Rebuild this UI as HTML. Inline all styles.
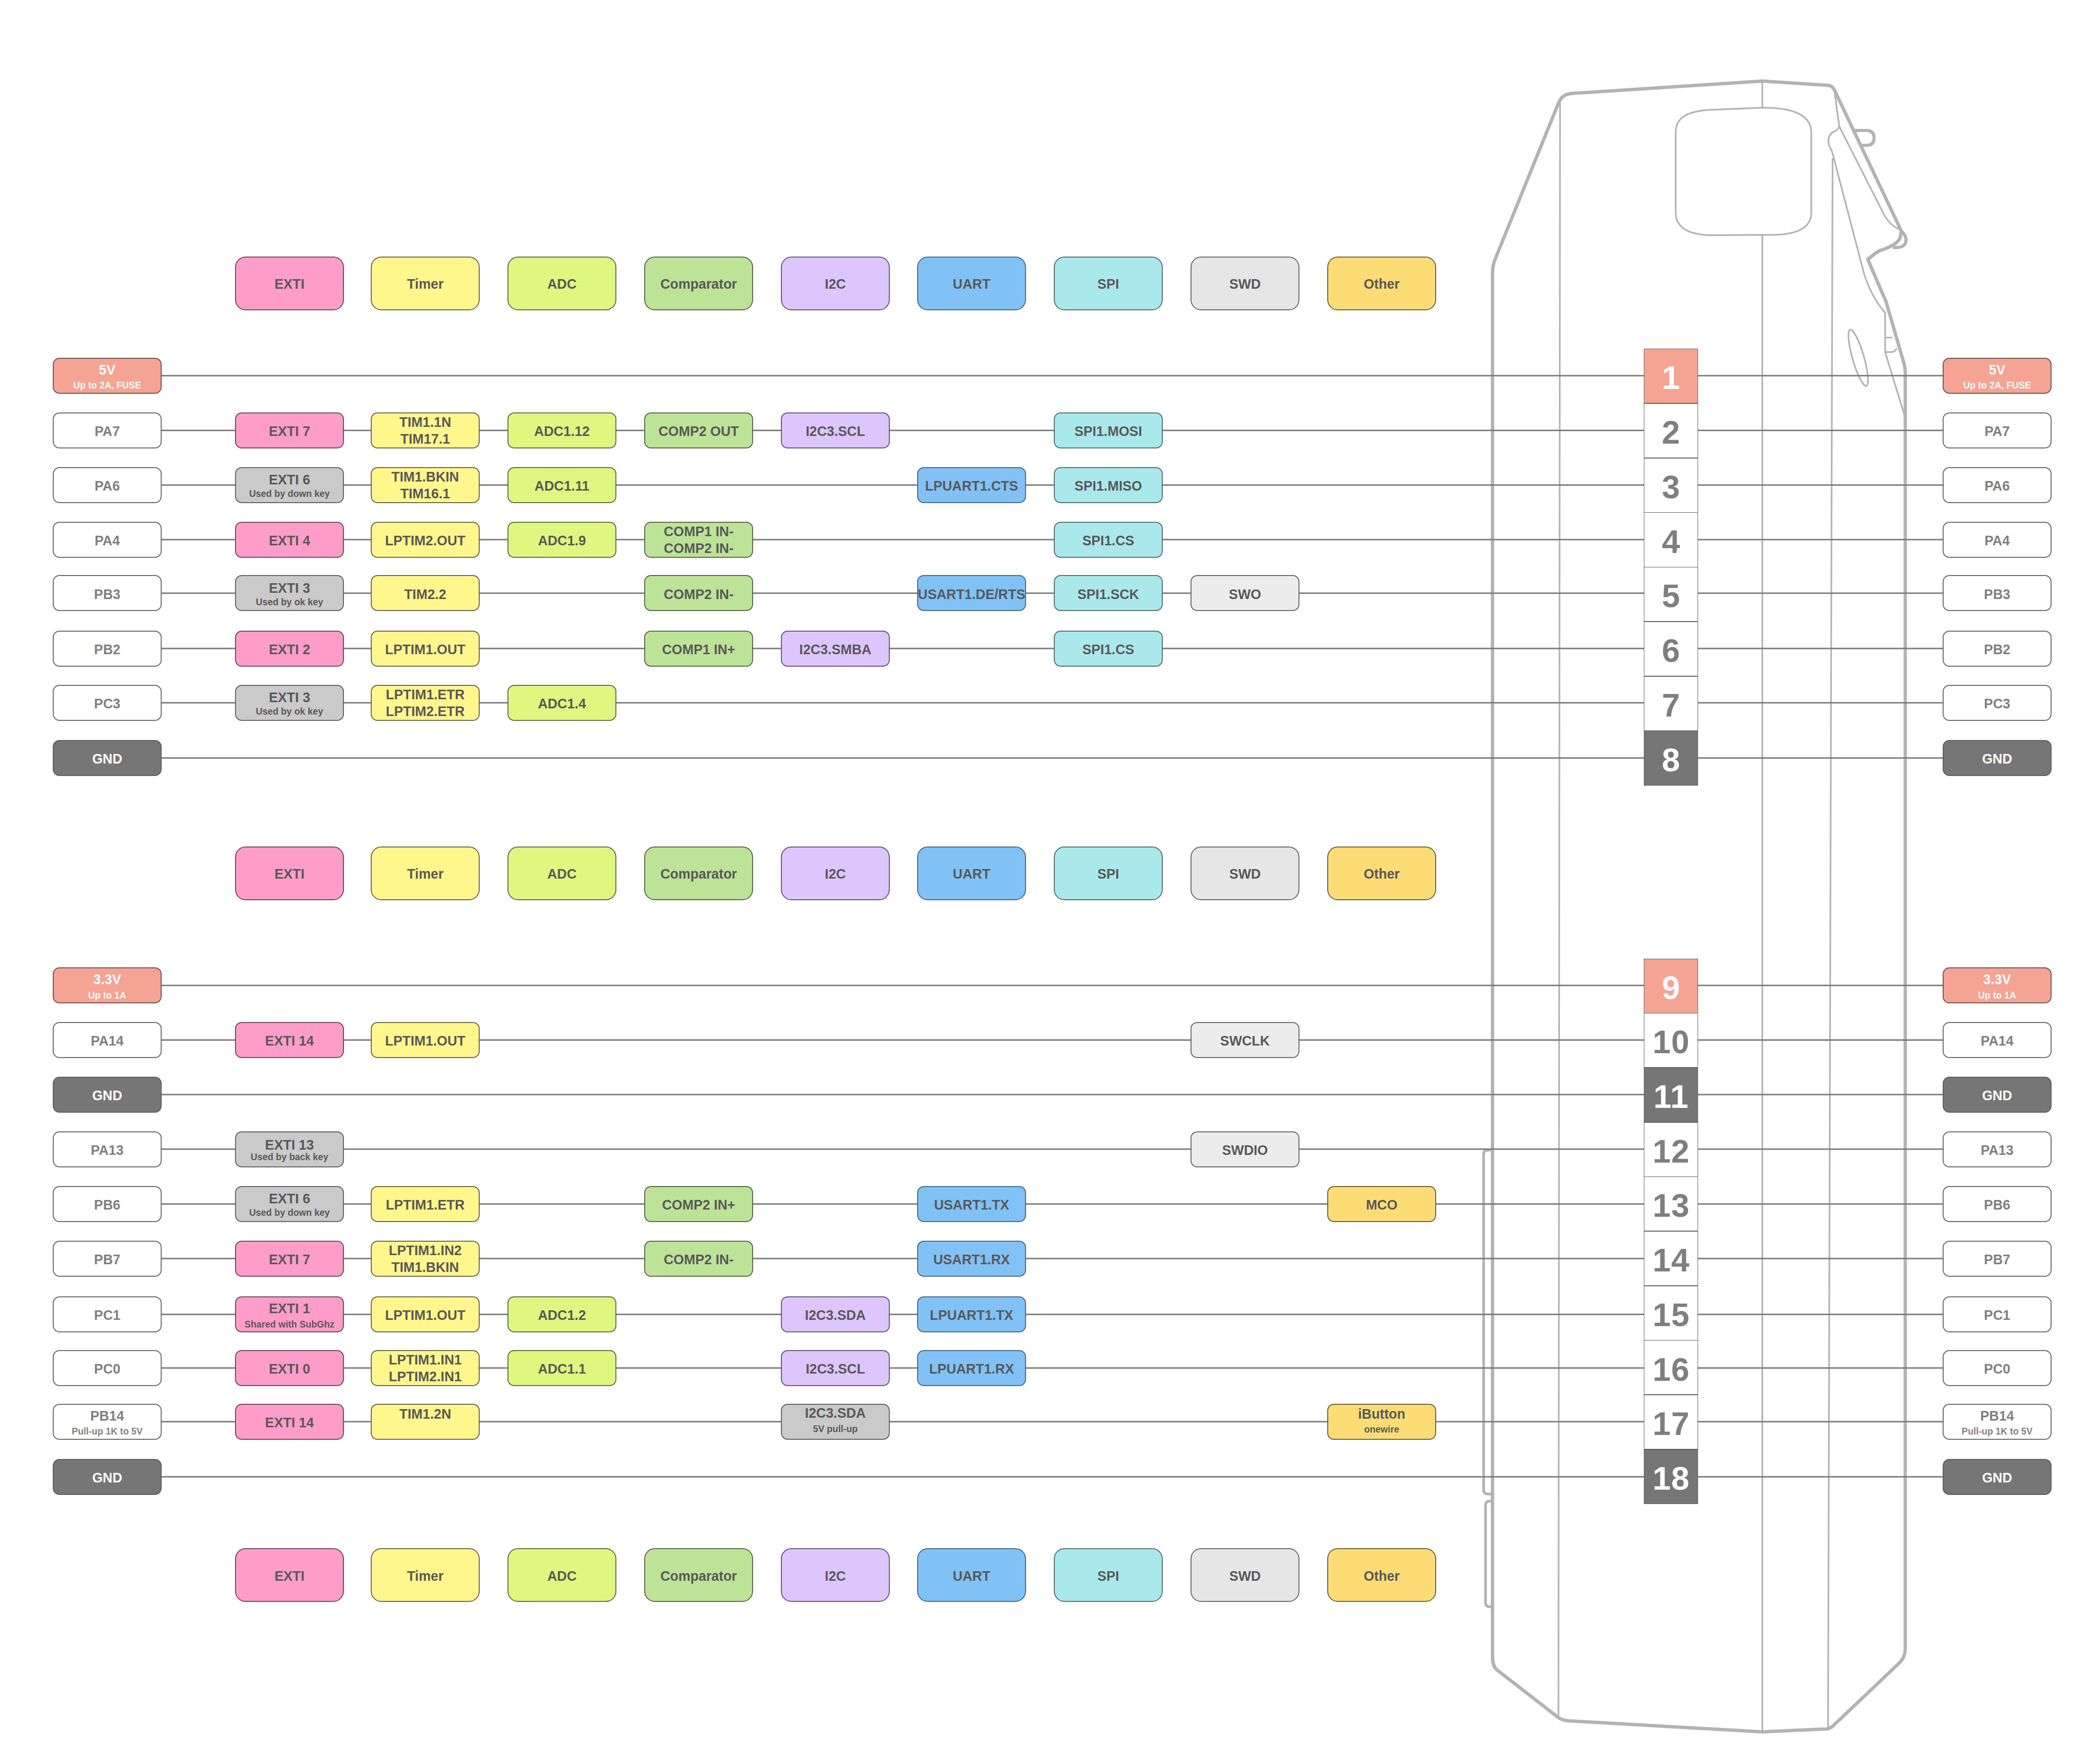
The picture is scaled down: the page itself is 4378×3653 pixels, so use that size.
<!DOCTYPE html><html><head><meta charset="utf-8"><title>Flipper Zero GPIO pinout</title><style>
*{margin:0;padding:0;box-sizing:border-box}
html,body{width:4378px;height:3653px;background:#fff;overflow:hidden}
body{position:relative;font-family:"Liberation Sans",sans-serif;font-weight:bold}
.b{position:absolute;border-style:solid;border-width:2px}
.c{height:75px;width:227px;border-radius:14px}
.h{height:112px;width:227px;border-radius:22px}
.t{position:absolute;left:-10px;right:-10px;text-align:center;white-space:nowrap}
.m{font-size:30.3px;line-height:30.3px;transform:scaleX(0.93)}
.s{font-size:19.3px;line-height:19.3px}
.pin{position:absolute;left:3427px;width:113px;border:1.5px solid #5e5e5e;font-size:68px;line-height:68px;letter-spacing:1px}
.pin span{position:absolute;left:1px;right:0;text-align:center}
svg{position:absolute;left:0;top:0}
</style></head><body>
<svg width="4378" height="3653" viewBox="0 0 4378 3653"><path d="M3111.5 3455 L3111.5 568 Q3111.5 556 3116 543 L3249 215 Q3256 197 3275 195 L3674 169 L3812 178 Q3820 179 3824 187 L3963 480 Q3965 500 3948 510 Q3930 520 3920 522 Q3910 527 3894 541 L3928 620 L3932 629 L3970 760 Q3972 768 3972 778 L3972 3438 Q3972 3455 3960 3467 L3822 3598 Q3815 3605 3806 3605 L3674 3611 L3270 3588 Q3256 3587 3246 3579 L3121 3482 Q3111.5 3474 3111.5 3455 Z" fill="none" stroke="#b3b3b3" stroke-width="7" stroke-linejoin="round"/><path d="M3963 481 Q3978 494 3972 508 Q3966 518 3946 516" fill="none" stroke="#b3b3b3" stroke-width="6.5"/><path d="M3864 272 L3891 272 Q3907 272 3907 288 Q3907 303 3891 303 L3880 303" fill="none" stroke="#b3b3b3" stroke-width="6.5"/><path d="M3252.3 212 L3249 3580" fill="none" stroke="#b3b3b3" stroke-width="3.4"/><path d="M3674 169 L3674 225" fill="none" stroke="#b3b3b3" stroke-width="3.4"/><path d="M3674 489 L3674 3611" fill="none" stroke="#b3b3b3" stroke-width="3.4"/><path d="M3820.5 330 L3811 3603" fill="none" stroke="#b3b3b3" stroke-width="3.4"/><path d="M3493.4 274 Q3494 232 3566 229 L3674 224.5 L3696 225 Q3774 230 3776 274 L3776 444 Q3776 486 3704 489.5 L3565 490.5 Q3494 488 3493.4 444 Z" fill="none" stroke="#b3b3b3" stroke-width="3.4"/><path d="M3824 187 L3834.4 263.6 Q3832 272 3820 276 Q3811 282 3812 298 L3813 303 Q3817 310 3820 318 L3887 574 Q3905 625 3930 652 L3930 734 L3971 868" fill="none" stroke="#b3b3b3" stroke-width="3.4"/><path d="M3834.4 263.6 L3928 448 Q3942 472 3962 479" fill="none" stroke="#b3b3b3" stroke-width="3.4"/><path d="M3930 704 L3945 704" fill="none" stroke="#b3b3b3" stroke-width="3.4"/><path d="M3930 734 L3942 734 Q3952 734 3954 726" fill="none" stroke="#b3b3b3" stroke-width="3.4"/><ellipse cx="3874" cy="746" rx="12" ry="61" transform="rotate(-16 3874 746)" fill="none" stroke="#b3b3b3" stroke-width="3.4"/><path d="M3111 2398 L3101 2398 Q3093 2398 3093 2407 L3093 3106 Q3093 3115 3101 3115 L3111 3115" fill="none" stroke="#b3b3b3" stroke-width="5.5"/><path d="M3111 3130 L3105 3130 Q3097 3130 3097 3139 L3097 3342 Q3097 3350 3105 3350 L3111 3350" fill="none" stroke="#b3b3b3" stroke-width="5.5"/><rect x="336" y="781.8" width="3718" height="3" fill="#7a7a7a"/><rect x="336" y="895.9" width="3718" height="3" fill="#7a7a7a"/><rect x="336" y="1009.8" width="3718" height="3" fill="#7a7a7a"/><rect x="336" y="1123.6" width="3718" height="3" fill="#7a7a7a"/><rect x="336" y="1235.3" width="3718" height="3" fill="#7a7a7a"/><rect x="336" y="1350.6" width="3718" height="3" fill="#7a7a7a"/><rect x="336" y="1463.8" width="3718" height="3" fill="#7a7a7a"/><rect x="336" y="1578.9" width="3718" height="3" fill="#7a7a7a"/><rect x="336" y="2053.2" width="3718" height="3" fill="#7a7a7a"/><rect x="336" y="2167.0" width="3718" height="3" fill="#7a7a7a"/><rect x="336" y="2280.7" width="3718" height="3" fill="#7a7a7a"/><rect x="336" y="2394.5" width="3718" height="3" fill="#7a7a7a"/><rect x="336" y="2508.9" width="3718" height="3" fill="#7a7a7a"/><rect x="336" y="2622.6" width="3718" height="3" fill="#7a7a7a"/><rect x="336" y="2739.1" width="3718" height="3" fill="#7a7a7a"/><rect x="336" y="2850.8" width="3718" height="3" fill="#7a7a7a"/><rect x="336" y="2962.7" width="3718" height="3" fill="#7a7a7a"/><rect x="336" y="3077.7" width="3718" height="3" fill="#7a7a7a"/></svg>
<div class="b h" style="left:490px;top:535.0px;background:#fe9dc7;border-color:#6a4a5a;color:#585858"><div class="t m" style="top:40.4px">EXTI</div></div>
<div class="b h" style="left:773px;top:535.0px;background:#fff68c;border-color:#66644a;color:#585858"><div class="t m" style="top:40.4px">Timer</div></div>
<div class="b h" style="left:1058px;top:535.0px;background:#dff77f;border-color:#5f6a48;color:#585858"><div class="t m" style="top:40.4px">ADC</div></div>
<div class="b h" style="left:1343px;top:535.0px;background:#bde397;border-color:#55654c;color:#585858"><div class="t m" style="top:40.4px">Comparator</div></div>
<div class="b h" style="left:1628px;top:535.0px;background:#dcc6fb;border-color:#5f5578;color:#585858"><div class="t m" style="top:40.4px">I2C</div></div>
<div class="b h" style="left:1912px;top:535.0px;background:#80c2f5;border-color:#4a6680;color:#585858"><div class="t m" style="top:40.4px">UART</div></div>
<div class="b h" style="left:2197px;top:535.0px;background:#aae9eb;border-color:#546c6c;color:#585858"><div class="t m" style="top:40.4px">SPI</div></div>
<div class="b h" style="left:2482px;top:535.0px;background:#e6e6e6;border-color:#666666;color:#585858"><div class="t m" style="top:40.4px">SWD</div></div>
<div class="b h" style="left:2767px;top:535.0px;background:#fcdd75;border-color:#66603f;color:#585858"><div class="t m" style="top:40.4px">Other</div></div>
<div class="b h" style="left:490px;top:1765.0px;background:#fe9dc7;border-color:#6a4a5a;color:#585858"><div class="t m" style="top:40.4px">EXTI</div></div>
<div class="b h" style="left:773px;top:1765.0px;background:#fff68c;border-color:#66644a;color:#585858"><div class="t m" style="top:40.4px">Timer</div></div>
<div class="b h" style="left:1058px;top:1765.0px;background:#dff77f;border-color:#5f6a48;color:#585858"><div class="t m" style="top:40.4px">ADC</div></div>
<div class="b h" style="left:1343px;top:1765.0px;background:#bde397;border-color:#55654c;color:#585858"><div class="t m" style="top:40.4px">Comparator</div></div>
<div class="b h" style="left:1628px;top:1765.0px;background:#dcc6fb;border-color:#5f5578;color:#585858"><div class="t m" style="top:40.4px">I2C</div></div>
<div class="b h" style="left:1912px;top:1765.0px;background:#80c2f5;border-color:#4a6680;color:#585858"><div class="t m" style="top:40.4px">UART</div></div>
<div class="b h" style="left:2197px;top:1765.0px;background:#aae9eb;border-color:#546c6c;color:#585858"><div class="t m" style="top:40.4px">SPI</div></div>
<div class="b h" style="left:2482px;top:1765.0px;background:#e6e6e6;border-color:#666666;color:#585858"><div class="t m" style="top:40.4px">SWD</div></div>
<div class="b h" style="left:2767px;top:1765.0px;background:#fcdd75;border-color:#66603f;color:#585858"><div class="t m" style="top:40.4px">Other</div></div>
<div class="b h" style="left:490px;top:3228.3px;background:#fe9dc7;border-color:#6a4a5a;color:#585858"><div class="t m" style="top:40.4px">EXTI</div></div>
<div class="b h" style="left:773px;top:3228.3px;background:#fff68c;border-color:#66644a;color:#585858"><div class="t m" style="top:40.4px">Timer</div></div>
<div class="b h" style="left:1058px;top:3228.3px;background:#dff77f;border-color:#5f6a48;color:#585858"><div class="t m" style="top:40.4px">ADC</div></div>
<div class="b h" style="left:1343px;top:3228.3px;background:#bde397;border-color:#55654c;color:#585858"><div class="t m" style="top:40.4px">Comparator</div></div>
<div class="b h" style="left:1628px;top:3228.3px;background:#dcc6fb;border-color:#5f5578;color:#585858"><div class="t m" style="top:40.4px">I2C</div></div>
<div class="b h" style="left:1912px;top:3228.3px;background:#80c2f5;border-color:#4a6680;color:#585858"><div class="t m" style="top:40.4px">UART</div></div>
<div class="b h" style="left:2197px;top:3228.3px;background:#aae9eb;border-color:#546c6c;color:#585858"><div class="t m" style="top:40.4px">SPI</div></div>
<div class="b h" style="left:2482px;top:3228.3px;background:#e6e6e6;border-color:#666666;color:#585858"><div class="t m" style="top:40.4px">SWD</div></div>
<div class="b h" style="left:2767px;top:3228.3px;background:#fcdd75;border-color:#66603f;color:#585858"><div class="t m" style="top:40.4px">Other</div></div>
<div class="b c" style="left:110px;top:745.8px;background:#f5a393;border-color:#6b5551;color:#ffffff"><div class="t m" style="top:7.9px">5V</div><div class="t s" style="top:46.7px">Up to 2A, FUSE</div></div>
<div class="b c" style="left:4050px;top:745.8px;background:#f5a393;border-color:#6b5551;color:#ffffff"><div class="t m" style="top:7.9px">5V</div><div class="t s" style="top:46.7px">Up to 2A, FUSE</div></div>
<div class="pin" style="top:727.1px;height:114.3px;background:#f5a393;color:#ffffff"><span style="top:25.3px">1</span></div>
<div class="b c" style="left:110px;top:859.9px;background:#ffffff;border-color:#676767;color:#7f7f7f"><div class="t m" style="top:22.4px">PA7</div></div>
<div class="b c" style="left:4050px;top:859.9px;background:#ffffff;border-color:#676767;color:#7f7f7f"><div class="t m" style="top:22.4px">PA7</div></div>
<div class="b c" style="left:490px;top:859.9px;background:#fe9dc7;border-color:#6a4a5a;color:#585858"><div class="t m" style="top:22.4px">EXTI 7</div></div>
<div class="b c" style="left:773px;top:859.9px;background:#fff68c;border-color:#66644a;color:#585858"><div class="t m" style="top:3.4px">TIM1.1N</div><div class="t m" style="top:38.2px">TIM17.1</div></div>
<div class="b c" style="left:1058px;top:859.9px;background:#dff77f;border-color:#5f6a48;color:#585858"><div class="t m" style="top:22.4px">ADC1.12</div></div>
<div class="b c" style="left:1343px;top:859.9px;background:#bde397;border-color:#55654c;color:#585858"><div class="t m" style="top:22.4px">COMP2 OUT</div></div>
<div class="b c" style="left:1628px;top:859.9px;background:#dcc6fb;border-color:#5f5578;color:#585858"><div class="t m" style="top:22.4px">I2C3.SCL</div></div>
<div class="b c" style="left:2197px;top:859.9px;background:#aae9eb;border-color:#546c6c;color:#585858"><div class="t m" style="top:22.4px">SPI1.MOSI</div></div>
<div class="pin" style="top:840.9px;height:114.3px;background:#ffffff;color:#7f7f7f"><span style="top:25.3px">2</span></div>
<div class="b c" style="left:110px;top:973.8px;background:#ffffff;border-color:#676767;color:#7f7f7f"><div class="t m" style="top:22.4px">PA6</div></div>
<div class="b c" style="left:4050px;top:973.8px;background:#ffffff;border-color:#676767;color:#7f7f7f"><div class="t m" style="top:22.4px">PA6</div></div>
<div class="b c" style="left:490px;top:973.8px;background:#cacaca;border-color:#606060;color:#585858"><div class="t m" style="top:9.3px">EXTI 6</div><div class="t s" style="top:44.6px">Used by down key</div></div>
<div class="b c" style="left:773px;top:973.8px;background:#fff68c;border-color:#66644a;color:#585858"><div class="t m" style="top:3.4px">TIM1.BKIN</div><div class="t m" style="top:38.2px">TIM16.1</div></div>
<div class="b c" style="left:1058px;top:973.8px;background:#dff77f;border-color:#5f6a48;color:#585858"><div class="t m" style="top:22.4px">ADC1.11</div></div>
<div class="b c" style="left:1912px;top:973.8px;background:#80c2f5;border-color:#4a6680;color:#585858"><div class="t m" style="top:22.4px">LPUART1.CTS</div></div>
<div class="b c" style="left:2197px;top:973.8px;background:#aae9eb;border-color:#546c6c;color:#585858"><div class="t m" style="top:22.4px">SPI1.MISO</div></div>
<div class="pin" style="top:954.6px;height:114.3px;background:#ffffff;color:#7f7f7f"><span style="top:25.3px">3</span></div>
<div class="b c" style="left:110px;top:1087.6px;background:#ffffff;border-color:#676767;color:#7f7f7f"><div class="t m" style="top:22.4px">PA4</div></div>
<div class="b c" style="left:4050px;top:1087.6px;background:#ffffff;border-color:#676767;color:#7f7f7f"><div class="t m" style="top:22.4px">PA4</div></div>
<div class="b c" style="left:490px;top:1087.6px;background:#fe9dc7;border-color:#6a4a5a;color:#585858"><div class="t m" style="top:22.4px">EXTI 4</div></div>
<div class="b c" style="left:773px;top:1087.6px;background:#fff68c;border-color:#66644a;color:#585858"><div class="t m" style="top:22.4px">LPTIM2.OUT</div></div>
<div class="b c" style="left:1058px;top:1087.6px;background:#dff77f;border-color:#5f6a48;color:#585858"><div class="t m" style="top:22.4px">ADC1.9</div></div>
<div class="b c" style="left:1343px;top:1087.6px;background:#bde397;border-color:#55654c;color:#585858"><div class="t m" style="top:3.4px">COMP1 IN-</div><div class="t m" style="top:38.2px">COMP2 IN-</div></div>
<div class="b c" style="left:2197px;top:1087.6px;background:#aae9eb;border-color:#546c6c;color:#585858"><div class="t m" style="top:22.4px">SPI1.CS</div></div>
<div class="pin" style="top:1068.4px;height:114.3px;background:#ffffff;color:#7f7f7f"><span style="top:25.3px">4</span></div>
<div class="b c" style="left:110px;top:1199.3px;background:#ffffff;border-color:#676767;color:#7f7f7f"><div class="t m" style="top:22.4px">PB3</div></div>
<div class="b c" style="left:4050px;top:1199.3px;background:#ffffff;border-color:#676767;color:#7f7f7f"><div class="t m" style="top:22.4px">PB3</div></div>
<div class="b c" style="left:490px;top:1199.3px;background:#cacaca;border-color:#606060;color:#585858"><div class="t m" style="top:9.3px">EXTI 3</div><div class="t s" style="top:44.6px">Used by ok key</div></div>
<div class="b c" style="left:773px;top:1199.3px;background:#fff68c;border-color:#66644a;color:#585858"><div class="t m" style="top:22.4px">TIM2.2</div></div>
<div class="b c" style="left:1343px;top:1199.3px;background:#bde397;border-color:#55654c;color:#585858"><div class="t m" style="top:22.4px">COMP2 IN-</div></div>
<div class="b c" style="left:1912px;top:1199.3px;background:#80c2f5;border-color:#4a6680;color:#585858"><div class="t m" style="top:22.4px">USART1.DE/RTS</div></div>
<div class="b c" style="left:2197px;top:1199.3px;background:#aae9eb;border-color:#546c6c;color:#585858"><div class="t m" style="top:22.4px">SPI1.SCK</div></div>
<div class="b c" style="left:2482px;top:1199.3px;background:#ececec;border-color:#666666;color:#585858"><div class="t m" style="top:22.4px">SWO</div></div>
<div class="pin" style="top:1182.1px;height:114.3px;background:#ffffff;color:#7f7f7f"><span style="top:25.3px">5</span></div>
<div class="b c" style="left:110px;top:1314.6px;background:#ffffff;border-color:#676767;color:#7f7f7f"><div class="t m" style="top:22.4px">PB2</div></div>
<div class="b c" style="left:4050px;top:1314.6px;background:#ffffff;border-color:#676767;color:#7f7f7f"><div class="t m" style="top:22.4px">PB2</div></div>
<div class="b c" style="left:490px;top:1314.6px;background:#fe9dc7;border-color:#6a4a5a;color:#585858"><div class="t m" style="top:22.4px">EXTI 2</div></div>
<div class="b c" style="left:773px;top:1314.6px;background:#fff68c;border-color:#66644a;color:#585858"><div class="t m" style="top:22.4px">LPTIM1.OUT</div></div>
<div class="b c" style="left:1343px;top:1314.6px;background:#bde397;border-color:#55654c;color:#585858"><div class="t m" style="top:22.4px">COMP1 IN+</div></div>
<div class="b c" style="left:1628px;top:1314.6px;background:#dcc6fb;border-color:#5f5578;color:#585858"><div class="t m" style="top:22.4px">I2C3.SMBA</div></div>
<div class="b c" style="left:2197px;top:1314.6px;background:#aae9eb;border-color:#546c6c;color:#585858"><div class="t m" style="top:22.4px">SPI1.CS</div></div>
<div class="pin" style="top:1295.9px;height:114.3px;background:#ffffff;color:#7f7f7f"><span style="top:25.3px">6</span></div>
<div class="b c" style="left:110px;top:1427.8px;background:#ffffff;border-color:#676767;color:#7f7f7f"><div class="t m" style="top:22.4px">PC3</div></div>
<div class="b c" style="left:4050px;top:1427.8px;background:#ffffff;border-color:#676767;color:#7f7f7f"><div class="t m" style="top:22.4px">PC3</div></div>
<div class="b c" style="left:490px;top:1427.8px;background:#cacaca;border-color:#606060;color:#585858"><div class="t m" style="top:9.3px">EXTI 3</div><div class="t s" style="top:44.6px">Used by ok key</div></div>
<div class="b c" style="left:773px;top:1427.8px;background:#fff68c;border-color:#66644a;color:#585858"><div class="t m" style="top:3.4px">LPTIM1.ETR</div><div class="t m" style="top:38.2px">LPTIM2.ETR</div></div>
<div class="b c" style="left:1058px;top:1427.8px;background:#dff77f;border-color:#5f6a48;color:#585858"><div class="t m" style="top:22.4px">ADC1.4</div></div>
<div class="pin" style="top:1409.7px;height:114.3px;background:#ffffff;color:#7f7f7f"><span style="top:25.3px">7</span></div>
<div class="b c" style="left:110px;top:1542.9px;background:#767676;border-color:#5f5f5f;color:#ffffff"><div class="t m" style="top:22.4px">GND</div></div>
<div class="b c" style="left:4050px;top:1542.9px;background:#767676;border-color:#5f5f5f;color:#ffffff"><div class="t m" style="top:22.4px">GND</div></div>
<div class="pin" style="top:1523.4px;height:114.3px;background:#767676;color:#ffffff"><span style="top:25.3px">8</span></div>
<div class="b c" style="left:110px;top:2017.2px;background:#f5a393;border-color:#6b5551;color:#ffffff"><div class="t m" style="top:7.9px">3.3V</div><div class="t s" style="top:46.7px">Up to 1A</div></div>
<div class="b c" style="left:4050px;top:2017.2px;background:#f5a393;border-color:#6b5551;color:#ffffff"><div class="t m" style="top:7.9px">3.3V</div><div class="t s" style="top:46.7px">Up to 1A</div></div>
<div class="pin" style="top:1998.5px;height:114.2px;background:#f5a393;color:#ffffff"><span style="top:25.3px">9</span></div>
<div class="b c" style="left:110px;top:2131.0px;background:#ffffff;border-color:#676767;color:#7f7f7f"><div class="t m" style="top:22.4px">PA14</div></div>
<div class="b c" style="left:4050px;top:2131.0px;background:#ffffff;border-color:#676767;color:#7f7f7f"><div class="t m" style="top:22.4px">PA14</div></div>
<div class="b c" style="left:490px;top:2131.0px;background:#fe9dc7;border-color:#6a4a5a;color:#585858"><div class="t m" style="top:22.4px">EXTI 14</div></div>
<div class="b c" style="left:773px;top:2131.0px;background:#fff68c;border-color:#66644a;color:#585858"><div class="t m" style="top:22.4px">LPTIM1.OUT</div></div>
<div class="b c" style="left:2482px;top:2131.0px;background:#ececec;border-color:#666666;color:#585858"><div class="t m" style="top:22.4px">SWCLK</div></div>
<div class="pin" style="top:2112.2px;height:114.2px;background:#ffffff;color:#7f7f7f"><span style="top:25.3px">10</span></div>
<div class="b c" style="left:110px;top:2244.7px;background:#767676;border-color:#5f5f5f;color:#ffffff"><div class="t m" style="top:22.4px">GND</div></div>
<div class="b c" style="left:4050px;top:2244.7px;background:#767676;border-color:#5f5f5f;color:#ffffff"><div class="t m" style="top:22.4px">GND</div></div>
<div class="pin" style="top:2225.9px;height:114.2px;background:#767676;color:#ffffff"><span style="top:25.3px">11</span></div>
<div class="b c" style="left:110px;top:2358.5px;background:#ffffff;border-color:#676767;color:#7f7f7f"><div class="t m" style="top:22.4px">PA13</div></div>
<div class="b c" style="left:4050px;top:2358.5px;background:#ffffff;border-color:#676767;color:#7f7f7f"><div class="t m" style="top:22.4px">PA13</div></div>
<div class="b c" style="left:490px;top:2358.5px;background:#cacaca;border-color:#606060;color:#585858"><div class="t m" style="top:11.8px">EXTI 13</div><div class="t s" style="top:42.8px">Used by back key</div></div>
<div class="b c" style="left:2482px;top:2358.5px;background:#ececec;border-color:#666666;color:#585858"><div class="t m" style="top:22.4px">SWDIO</div></div>
<div class="pin" style="top:2339.5px;height:114.2px;background:#ffffff;color:#7f7f7f"><span style="top:25.3px">12</span></div>
<div class="b c" style="left:110px;top:2472.9px;background:#ffffff;border-color:#676767;color:#7f7f7f"><div class="t m" style="top:22.4px">PB6</div></div>
<div class="b c" style="left:4050px;top:2472.9px;background:#ffffff;border-color:#676767;color:#7f7f7f"><div class="t m" style="top:22.4px">PB6</div></div>
<div class="b c" style="left:490px;top:2472.9px;background:#cacaca;border-color:#606060;color:#585858"><div class="t m" style="top:9.3px">EXTI 6</div><div class="t s" style="top:44.6px">Used by down key</div></div>
<div class="b c" style="left:773px;top:2472.9px;background:#fff68c;border-color:#66644a;color:#585858"><div class="t m" style="top:22.4px">LPTIM1.ETR</div></div>
<div class="b c" style="left:1343px;top:2472.9px;background:#bde397;border-color:#55654c;color:#585858"><div class="t m" style="top:22.4px">COMP2 IN+</div></div>
<div class="b c" style="left:1912px;top:2472.9px;background:#80c2f5;border-color:#4a6680;color:#585858"><div class="t m" style="top:22.4px">USART1.TX</div></div>
<div class="b c" style="left:2767px;top:2472.9px;background:#fcdd75;border-color:#66603f;color:#585858"><div class="t m" style="top:22.4px">MCO</div></div>
<div class="pin" style="top:2453.2px;height:114.2px;background:#ffffff;color:#7f7f7f"><span style="top:25.3px">13</span></div>
<div class="b c" style="left:110px;top:2586.6px;background:#ffffff;border-color:#676767;color:#7f7f7f"><div class="t m" style="top:22.4px">PB7</div></div>
<div class="b c" style="left:4050px;top:2586.6px;background:#ffffff;border-color:#676767;color:#7f7f7f"><div class="t m" style="top:22.4px">PB7</div></div>
<div class="b c" style="left:490px;top:2586.6px;background:#fe9dc7;border-color:#6a4a5a;color:#585858"><div class="t m" style="top:22.4px">EXTI 7</div></div>
<div class="b c" style="left:773px;top:2586.6px;background:#fff68c;border-color:#66644a;color:#585858"><div class="t m" style="top:3.4px">LPTIM1.IN2</div><div class="t m" style="top:38.2px">TIM1.BKIN</div></div>
<div class="b c" style="left:1343px;top:2586.6px;background:#bde397;border-color:#55654c;color:#585858"><div class="t m" style="top:22.4px">COMP2 IN-</div></div>
<div class="b c" style="left:1912px;top:2586.6px;background:#80c2f5;border-color:#4a6680;color:#585858"><div class="t m" style="top:22.4px">USART1.RX</div></div>
<div class="pin" style="top:2566.9px;height:114.2px;background:#ffffff;color:#7f7f7f"><span style="top:25.3px">14</span></div>
<div class="b c" style="left:110px;top:2703.1px;background:#ffffff;border-color:#676767;color:#7f7f7f"><div class="t m" style="top:22.4px">PC1</div></div>
<div class="b c" style="left:4050px;top:2703.1px;background:#ffffff;border-color:#676767;color:#7f7f7f"><div class="t m" style="top:22.4px">PC1</div></div>
<div class="b c" style="left:490px;top:2703.1px;background:#fe9dc7;border-color:#6a4a5a;color:#585858"><div class="t m" style="top:8.1px">EXTI 1</div><div class="t s" style="top:47.2px">Shared with SubGhz</div></div>
<div class="b c" style="left:773px;top:2703.1px;background:#fff68c;border-color:#66644a;color:#585858"><div class="t m" style="top:22.4px">LPTIM1.OUT</div></div>
<div class="b c" style="left:1058px;top:2703.1px;background:#dff77f;border-color:#5f6a48;color:#585858"><div class="t m" style="top:22.4px">ADC1.2</div></div>
<div class="b c" style="left:1628px;top:2703.1px;background:#dcc6fb;border-color:#5f5578;color:#585858"><div class="t m" style="top:22.4px">I2C3.SDA</div></div>
<div class="b c" style="left:1912px;top:2703.1px;background:#80c2f5;border-color:#4a6680;color:#585858"><div class="t m" style="top:22.4px">LPUART1.TX</div></div>
<div class="pin" style="top:2680.6px;height:114.2px;background:#ffffff;color:#7f7f7f"><span style="top:25.3px">15</span></div>
<div class="b c" style="left:110px;top:2814.8px;background:#ffffff;border-color:#676767;color:#7f7f7f"><div class="t m" style="top:22.4px">PC0</div></div>
<div class="b c" style="left:4050px;top:2814.8px;background:#ffffff;border-color:#676767;color:#7f7f7f"><div class="t m" style="top:22.4px">PC0</div></div>
<div class="b c" style="left:490px;top:2814.8px;background:#fe9dc7;border-color:#6a4a5a;color:#585858"><div class="t m" style="top:22.4px">EXTI 0</div></div>
<div class="b c" style="left:773px;top:2814.8px;background:#fff68c;border-color:#66644a;color:#585858"><div class="t m" style="top:3.4px">LPTIM1.IN1</div><div class="t m" style="top:38.2px">LPTIM2.IN1</div></div>
<div class="b c" style="left:1058px;top:2814.8px;background:#dff77f;border-color:#5f6a48;color:#585858"><div class="t m" style="top:22.4px">ADC1.1</div></div>
<div class="b c" style="left:1628px;top:2814.8px;background:#dcc6fb;border-color:#5f5578;color:#585858"><div class="t m" style="top:22.4px">I2C3.SCL</div></div>
<div class="b c" style="left:1912px;top:2814.8px;background:#80c2f5;border-color:#4a6680;color:#585858"><div class="t m" style="top:22.4px">LPUART1.RX</div></div>
<div class="pin" style="top:2794.3px;height:114.2px;background:#ffffff;color:#7f7f7f"><span style="top:25.3px">16</span></div>
<div class="b c" style="left:110px;top:2926.7px;background:#ffffff;border-color:#676767;color:#7f7f7f"><div class="t m" style="top:7.9px">PB14</div><div class="t s" style="top:46.7px">Pull-up 1K to 5V</div></div>
<div class="b c" style="left:4050px;top:2926.7px;background:#ffffff;border-color:#676767;color:#7f7f7f"><div class="t m" style="top:7.9px">PB14</div><div class="t s" style="top:46.7px">Pull-up 1K to 5V</div></div>
<div class="b c" style="left:490px;top:2926.7px;background:#fe9dc7;border-color:#6a4a5a;color:#585858"><div class="t m" style="top:22.4px">EXTI 14</div></div>
<div class="b c" style="left:773px;top:2926.7px;background:#fff68c;border-color:#66644a;color:#585858"><div class="t m" style="top:3.9px">TIM1.2N</div></div>
<div class="b c" style="left:1628px;top:2926.7px;background:#cacaca;border-color:#606060;color:#585858"><div class="t m" style="top:1.9px">I2C3.SDA</div><div class="t s" style="top:41.2px">5V pull-up</div></div>
<div class="b c" style="left:2767px;top:2926.7px;background:#fcdd75;border-color:#66603f;color:#585858"><div class="t m" style="top:3.9px">iButton</div><div class="t s" style="top:42.2px">onewire</div></div>
<div class="pin" style="top:2907.9px;height:114.2px;background:#ffffff;color:#7f7f7f"><span style="top:25.3px">17</span></div>
<div class="b c" style="left:110px;top:3041.7px;background:#767676;border-color:#5f5f5f;color:#ffffff"><div class="t m" style="top:22.4px">GND</div></div>
<div class="b c" style="left:4050px;top:3041.7px;background:#767676;border-color:#5f5f5f;color:#ffffff"><div class="t m" style="top:22.4px">GND</div></div>
<div class="pin" style="top:3021.6px;height:114.2px;background:#767676;color:#ffffff"><span style="top:25.3px">18</span></div>
</body></html>
